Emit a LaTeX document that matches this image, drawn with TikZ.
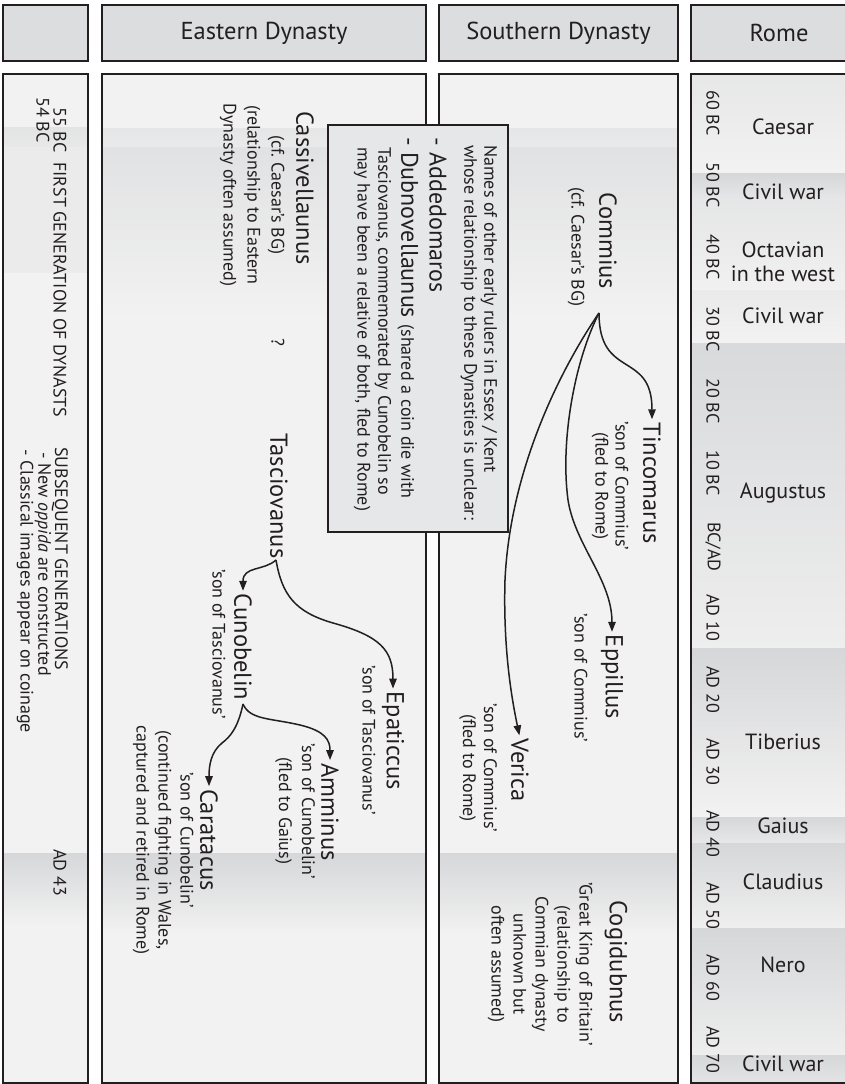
\documentclass[tikz,border=0pt]{standalone}
\usepackage{fontspec}
\setmainfont{PT Sans}
\usetikzlibrary{arrows.meta,calc}
\definecolor{ink}{RGB}{35,31,32}
\definecolor{hdrfill}{RGB}{220,221,223}
\definecolor{bodyfill}{RGB}{242,242,242}
\definecolor{banddark}{RGB}{214,215,217}
\definecolor{infofill}{RGB}{230,231,232}
\begin{document}
\begin{tikzpicture}[x=1pt,y=-1pt,
  rt/.style={rotate=-90, inner sep=0pt, text=ink},
  nm/.style={rt, font=\fontsize{24.5}{28}\selectfont},
  sm/.style={rt, align=center, font=\fontsize{18}{22}\selectfont},
  ism/.style={rt, anchor=west, font=\fontsize{18}{22}\selectfont},
  ibig/.style={rt, anchor=west, font=\fontsize{24}{28}\selectfont},
  col1t/.style={rt, anchor=west, font=\fontsize{18}{20}\selectfont},
  dt/.style={rt, anchor=west, font=\fontsize{18}{20}\selectfont},
  rl/.style={inner sep=0pt, text=ink, align=center, font=\fontsize{22}{23.5}\selectfont},
  hbox/.style={draw=ink, line width=2pt, fill=hdrfill, text=ink, font=\fontsize{24.5}{28}\selectfont, minimum height=56pt, inner sep=0pt},
  bbox/.style={draw=ink, line width=2pt},
  arr/.style={draw=ink, line width=1.5pt, shorten >=3pt, -{Triangle[length=10pt,width=7.5pt]}},
]
\useasboundingbox (0,0) rectangle (845,1084);
\clip (0,0) rectangle (845,1084);
\fill[white] (0,0) rectangle (845,1084);

% ---------- headers
\node (hC1) [hbox, minimum width=85pt] at (45.5,33) {};
\node (hE)  [hbox, minimum width=324pt] at (264,33) {Eastern Dynasty};
\node (hS)  [hbox, minimum width=239pt] at (558.5,33) {Southern Dynasty};
\node (hR)  [hbox, minimum width=176pt] at (779,33) {Rome};

% ---------- body fills
\fill[bodyfill] (3,74) rectangle (88,1083);
\fill[bodyfill] (102,74) rectangle (426,1083);
\fill[bodyfill] (439,74) rectangle (678,1083);
\fill[bodyfill] (691,74) rectangle (870,1083);

% ---------- bands, column 1
\shade[top color=banddark!55!bodyfill, bottom color=banddark!35!bodyfill] (3,127) rectangle (88,147);
\fill[banddark!25!bodyfill] (3,147) rectangle (88,273);
\shade[top color=banddark, bottom color=bodyfill] (3,853) rectangle (88,925);
% ---------- bands, dynasties
\foreach \xa/\xb in {102/426,439/678}{
  \shade[top color=banddark!45!bodyfill, bottom color=banddark!30!bodyfill] (\xa,128) rectangle (\xb,147);
  \shade[top color=banddark!60!bodyfill, bottom color=bodyfill] (\xa,147) rectangle (\xb,320);
  \shade[top color=banddark, bottom color=bodyfill] (\xa,853) rectangle (\xb,935);
}
% ---------- bands, Rome
\foreach \ya/\yb/\t/\b in {74/173/40/0, 173/200/100/40, 200/290/45/5, 290/343/30/0, 343/648/90/15, 648/817/100/0, 817/843/100/40, 843/928/100/10, 928/1055/100/15, 1055/1090/100/40}
  \shade[top color=banddark!\t!bodyfill, bottom color=banddark!\b!bodyfill] (691,\ya) rectangle (870,\yb);

% ---------- body borders
\draw[bbox] (3,74) rectangle (88,1083);
\draw[bbox] (102,74) rectangle (426,1083);
\draw[bbox] (439,74) rectangle (678,1083);
\draw[bbox] (691,74) rectangle (870,1083);

% ---------- column 1 texts
\node (d55) [col1t] at (60,107) {55 BC};
\node (d54) [col1t] at (43,97) {54 BC};
\node (fg)  [col1t] at (60,162) {FIRST GENERATION OF DYNASTS};
\node (sg)  [col1t] at (60,447) {SUBSEQUENT GENERATIONS};
\node (op)  [col1t] at (43,452) {- New \textit{oppida} are constructed};
\node (ci)  [col1t] at (25,449) {- Classical images appear on coinage};
\node (ad43) [col1t] at (60,849) {AD 43};

% ---------- info box
\node (info) [draw=ink, line width=1.8pt, fill=infofill, minimum width=180pt, minimum height=407pt, inner sep=0pt] at (418,328.5) {};
\node (i1) [ism] at (489,145) {Names of other early rulers in Essex / Kent};
\node (i2) [ism] at (469,145) {whose relationship to these Dynasties is unclear:};
\node (i3) [ibig] at (438,137) {- Addedomaros};
\node (i4) [ibig] at (408,137) {- Dubnovellaunus {\fontsize{18}{22}\selectfont (shared a coin die with}};
\node (i5) [ism] at (383,147) {Tasciovanus, commemorated by Cunobelin so};
\node (i6) [ism] at (362,147) {may have been a relative of both, fled to Rome)};

% ---------- Eastern dynasty
\node (cas)  [nm] at (305,188) {Cassivellaunus};
\node (cass) [sm, font=\fontsize{18}{24}\selectfont] at (252,195) {(cf.\ Caesar's BG)\\(relationship to Eastern\\Dynasty often assumed)};
\node (qm)   [sm] at (278,342) {?};
\node (tas)  [nm] at (279,496) {Tasciovanus};
\node (cun)  [nm] at (243,647) {Cunobelin};
\node (cuns) [sm] at (219,644) {'son of Tasciovanus'};
\node (epa)  [nm] at (393,741) {Epaticcus};
\node (epas) [sm] at (369,740) {'son of Tasciovanus'};
\node (amm)  [nm] at (330,812) {Amminus};
\node (amms) [sm, font=\fontsize{18}{23}\selectfont] at (295,811) {'son of Cunobelin'\\(fled to Gaius)};
\node (car)  [nm] at (209,840) {Caratacus};
\node (cars) [sm] at (163,840) {'son of Cunobelin'\\(continued fighting in Wales,\\captured and retired in Rome)};

\coordinate (tasO) at (276,560);
\coordinate (cunO) at (243,704);
\draw[arr] (tasO) .. controls (264,571) and (243,566) .. (cun.west);
\draw[arr] (tasO) .. controls (282,595) and (295,612) .. (333,623) .. controls (380,636) and (393,650) .. (epa.west);
\draw[arr] (cunO) .. controls (250,720) and (270,718) .. (300,725) .. controls (325,731) and (330,740) .. (amm.west);
\draw[arr] (cunO) .. controls (238,728) and (230,737) .. (222,743) .. controls (211,752) and (209,765) .. (car.west);

% ---------- Southern dynasty
\node (com)  [nm] at (608,241) {Commius};
\node (coms) [sm] at (576,247) {(cf.\ Caesar's BG)};
\node (tin)  [nm] at (652,483) {Tincomarus};
\node (tins) [sm, font=\fontsize{18}{20}\selectfont] at (610,486) {'son of Commius'\\(fled to Rome)};
\node (epp)  [nm] at (612,677) {Eppillus};
\node (epps) [sm] at (581,678) {'son of Commius'};
\node (ver)  [nm] at (520,770) {Verica};
\node (vers) [sm, font=\fontsize{18}{21}\selectfont] at (478,768) {'son of Commius'\\(fled to Rome)};
\node (cog)  [nm] at (616,962) {Cogidubnus};
\node (cogs) [sm] at (540,964) {'Great King of Britain'\\(relationship to\\Commian dynasty\\unknown but\\often assumed)};

\coordinate (comO) at (599,313);
\draw[arr] (comO) .. controls (599,380) and (652,350) .. (tin.west);
\draw[arr] (comO) .. controls (575,360) and (560,440) .. (568,500) .. controls (575,545) and (612,580) .. (epp.west);
\draw[arr] (comO) .. controls (560,370) and (510,470) .. (505,580) .. controls (503,650) and (512,700) .. (ver.west);

% ---------- Rome
\foreach \lab [count=\i from 0] in {60 BC,50 BC,40 BC,30 BC,20 BC,10 BC,BC/AD,AD 10,AD 20,AD 30,AD 40,AD 50,AD 60,AD 70}
  \node (dt\i) [dt] at (713,{90+72*\i}) {\lab};
\node (rCae) [rl] at (783,127) {Caesar};
\node (rCw1) [rl] at (783,192) {Civil war};
\node (rOct) [rl] at (783,262) {Octavian\\in the west};
\node (rCw2) [rl] at (783,316) {Civil war};
\node (rAug) [rl] at (783,493) {Augustus};
\node (rTib) [rl] at (783,742) {Tiberius};
\node (rGai) [rl] at (783,826) {Gaius};
\node (rCla) [rl] at (783,882) {Claudius};
\node (rNer) [rl] at (783,965) {Nero};
\node (rCw3) [rl] at (783,1064) {Civil war};
\end{tikzpicture}
\end{document}
